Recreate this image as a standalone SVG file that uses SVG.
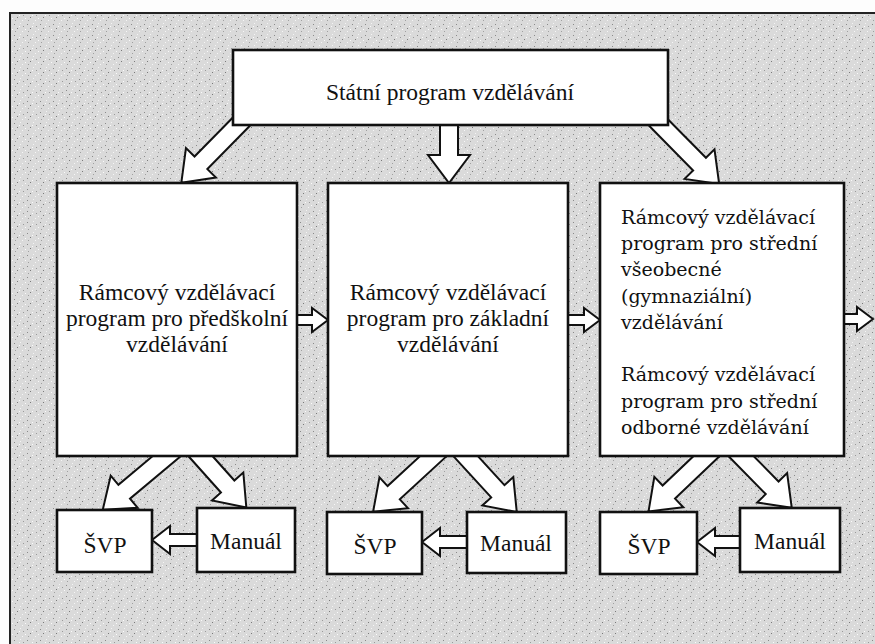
<svg xmlns="http://www.w3.org/2000/svg" width="875" height="644" viewBox="0 0 875 644">
<style>
.box{fill:#fff;stroke:#111;stroke-width:2.6}
.arr{fill:#fff;stroke:#111;stroke-width:2}
.t{font-family:"Liberation Serif","Times New Roman",serif;font-size:23.5px;fill:#111;text-anchor:middle}
.t3{font-family:"DejaVu Serif",Georgia,serif;font-size:19px;fill:#111}
</style>
<defs>
<pattern id="speck" width="13" height="11" patternUnits="userSpaceOnUse">
<rect width="13" height="11" fill="#dadada"/>
<rect x="1" y="2" width="1" height="1" fill="#8a8a8a"/>
<rect x="7" y="1" width="1" height="1" fill="#f4f4f4"/>
<rect x="4" y="6" width="1" height="1" fill="#7a7a7a"/>
<rect x="10" y="4" width="1" height="1" fill="#9a9a9a"/>
<rect x="9" y="9" width="1" height="1" fill="#f6f6f6"/>
<rect x="2" y="9" width="1" height="1" fill="#a0a0a0"/>
<rect x="12" y="7" width="1" height="1" fill="#fafafa"/>
<rect x="6" y="4" width="1" height="1" fill="#fafafa"/>
</pattern>
</defs>
<rect width="875" height="644" fill="#fdfdfd"/>
<rect x="10" y="13" width="880" height="650" fill="url(#speck)" stroke="#222" stroke-width="2"/>

<g id="connectors">
<!-- top box to level 2 -->
<path class="arr" transform="translate(243,120) rotate(134.5)" d="M0,-9 L60,-9 L60,-21 L88,0 L60,21 L60,9 L0,9 Z"/>
<path class="arr" transform="translate(449,120) rotate(90)" d="M0,-9 L35,-9 L35,-21 L63,0 L35,21 L35,9 L0,9 Z"/>
<path class="arr" transform="translate(656,120) rotate(45.4)" d="M0,-9 L62,-9 L62,-21 L90,0 L62,21 L62,9 L0,9 Z"/>
<!-- horizontal between level-2 boxes -->
<path class="arr" transform="translate(292,320)" d="M0,-5 L20,-5 L20,-12 L36,0 L20,12 L20,5 L0,5 Z"/>
<path class="arr" transform="translate(563,320)" d="M0,-5 L21,-5 L21,-12 L37,0 L21,12 L21,5 L0,5 Z"/>
<path class="arr" transform="translate(839,319)" d="M0,-5 L18,-5 L18,-12 L34,0 L18,12 L18,5 L0,5 Z"/>
<!-- level 2 to bottom -->
<path class="arr" transform="translate(174,450) rotate(140)" d="M0,-9 L65,-9 L65,-21 L93,0 L65,21 L65,9 L0,9 Z"/>
<path class="arr" transform="translate(195,450) rotate(48.2)" d="M0,-9 L49,-9 L49,-21 L77,0 L49,21 L49,9 L0,9 Z"/>
<path class="arr" transform="translate(440,450) rotate(137.3)" d="M0,-9 L63,-9 L63,-21 L91,0 L63,21 L63,9 L0,9 Z"/>
<path class="arr" transform="translate(460,450) rotate(47.5)" d="M0,-9 L56,-9 L56,-21 L84,0 L56,21 L56,9 L0,9 Z"/>
<path class="arr" transform="translate(713,450) rotate(136.4)" d="M0,-9 L61,-9 L61,-21 L89,0 L61,21 L61,9 L0,9 Z"/>
<path class="arr" transform="translate(735,450) rotate(45.5)" d="M0,-9 L53,-9 L53,-21 L81,0 L53,21 L53,9 L0,9 Z"/>
<!-- Manual to SVP -->
<path class="arr" transform="translate(200,540) rotate(180)" d="M0,-6 L30,-6 L30,-14 L48,0 L30,14 L30,6 L0,6 Z"/>
<path class="arr" transform="translate(470,542) rotate(180)" d="M0,-6 L30,-6 L30,-14 L48,0 L30,14 L30,6 L0,6 Z"/>
<path class="arr" transform="translate(743,542) rotate(180)" d="M0,-6 L28,-6 L28,-14 L46,0 L28,14 L28,6 L0,6 Z"/>
</g>

<g id="statni">
<rect class="box" x="233" y="50" width="435" height="75"/>
<text class="t" x="450" y="100">Státní program vzdělávání</text>
</g>

<g id="rvp-predskolni">
<rect class="box" x="57" y="183" width="240" height="273"/>
<text class="t" x="177" y="300">Rámcový vzdělávací</text>
<text class="t" x="177" y="326">program pro předškolní</text>
<text class="t" x="177" y="352">vzdělávání</text>
</g>

<g id="rvp-zakladni">
<rect class="box" x="328" y="183" width="240" height="273"/>
<text class="t" x="448" y="300">Rámcový vzdělávací</text>
<text class="t" x="448" y="326">program pro základní</text>
<text class="t" x="448" y="352">vzdělávání</text>
</g>

<g id="rvp-stredni">
<rect class="box" x="600" y="183" width="244" height="273"/>
<text class="t3" x="621" y="224">Rámcový vzdělávací</text>
<text class="t3" x="621" y="250">program pro střední</text>
<text class="t3" x="621" y="276">všeobecné</text>
<text class="t3" x="621" y="303">(gymnaziální)</text>
<text class="t3" x="621" y="329">vzdělávání</text>
<text class="t3" x="621" y="381">Rámcový vzdělávací</text>
<text class="t3" x="621" y="408">program pro střední</text>
<text class="t3" x="621" y="434">odborné vzdělávání</text>
</g>

<g id="svp1">
<rect class="box" x="57" y="510" width="95" height="62"/>
<text class="t" x="105" y="553">ŠVP</text>
</g>
<g id="manual1">
<rect class="box" x="197" y="508" width="98" height="64"/>
<text class="t" x="246" y="549">Manuál</text>
</g>
<g id="svp2">
<rect class="box" x="327" y="512" width="95" height="62"/>
<text class="t" x="375" y="554">ŠVP</text>
</g>
<g id="manual2">
<rect class="box" x="467" y="512" width="99" height="61"/>
<text class="t" x="516" y="551">Manuál</text>
</g>
<g id="svp3">
<rect class="box" x="600" y="512" width="97" height="62"/>
<text class="t" x="649" y="554">ŠVP</text>
</g>
<g id="manual3">
<rect class="box" x="740" y="508" width="100" height="64"/>
<text class="t" x="790" y="549">Manuál</text>
</g>
</svg>
